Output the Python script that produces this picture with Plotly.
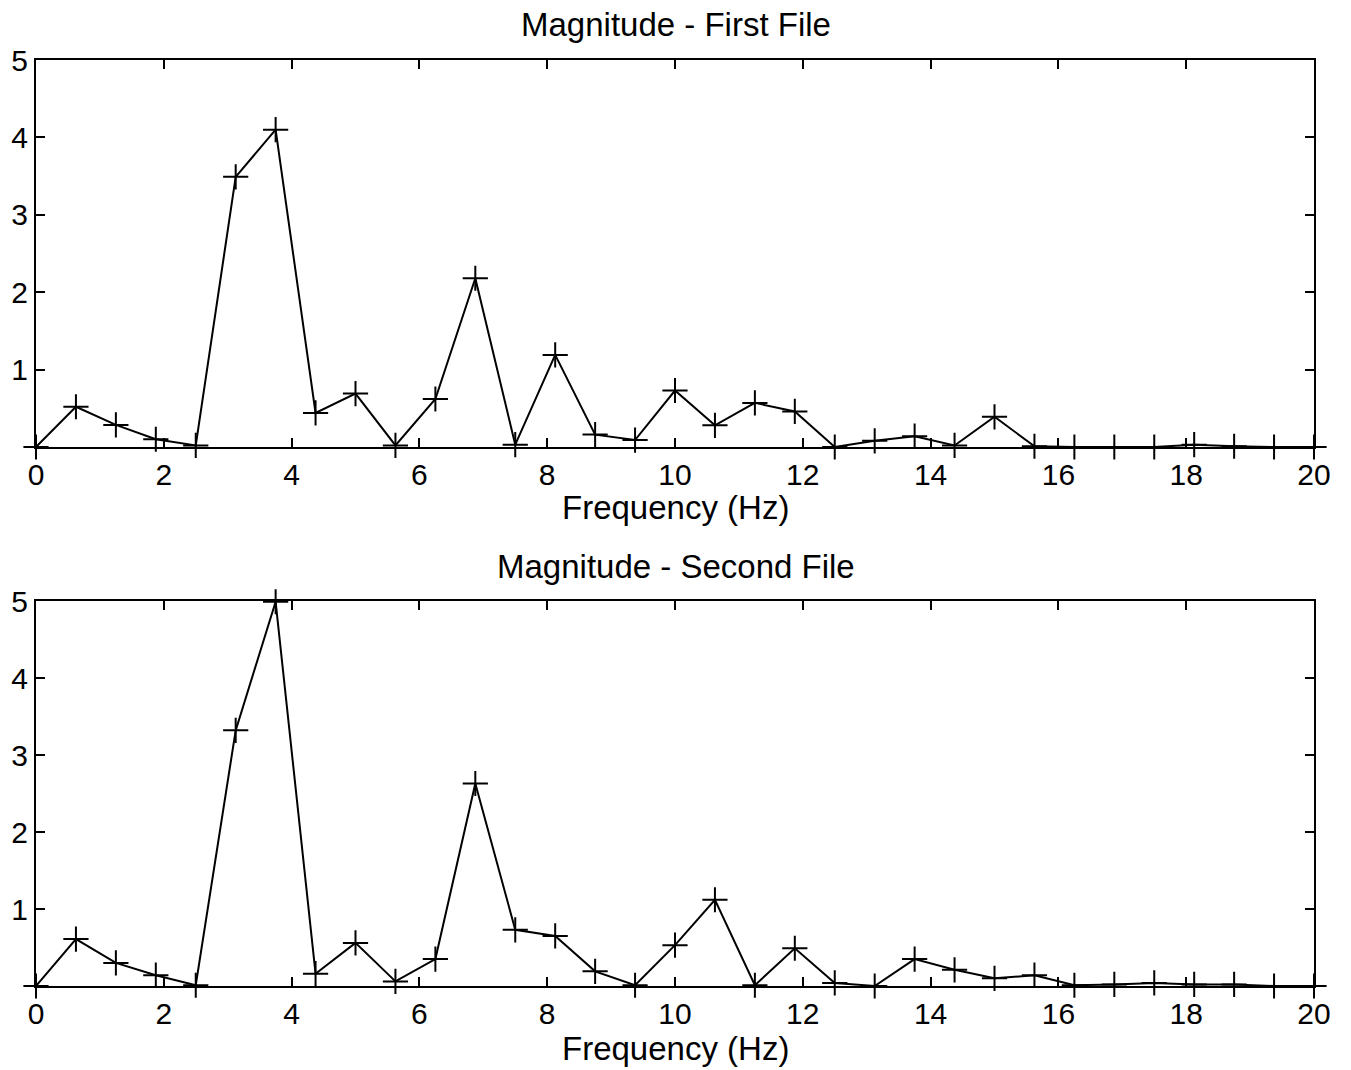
import plotly.graph_objects as go

freq = [0, 0.625, 1.25, 1.875, 2.5, 3.125, 3.75, 4.375, 5, 5.625, 6.25, 6.875, 7.5, 8.125,
        8.75, 9.375, 10, 10.625, 11.25, 11.875, 12.5, 13.125, 13.75, 14.375, 15, 15.625,
        16.25, 16.875, 17.5, 18.125, 18.75, 19.375, 20]

mag_first = [0, 0.52, 0.285, 0.10, 0.02, 3.49, 4.10, 0.44, 0.69, 0.02, 0.62, 2.18, 0.03, 1.19,
             0.16, 0.09, 0.73, 0.28, 0.57, 0.46, 0.0, 0.08, 0.14, 0.02, 0.39, 0.01,
             0.0, 0.0, 0.0, 0.03, 0.01, 0.0, 0.0]

mag_second = [0, 0.61, 0.30, 0.14, 0.01, 3.32, 4.99, 0.16, 0.56, 0.06, 0.35, 2.63, 0.73, 0.65,
              0.19, 0.01, 0.53, 1.12, 0.01, 0.49, 0.04, 0.0, 0.35, 0.21, 0.10, 0.14,
              0.01, 0.02, 0.04, 0.02, 0.02, 0.0, 0.0]

titles = ["Magnitude - First File", "Magnitude - Second File"]
xlabel = "Frequency (Hz)"
xticks = [0, 2, 4, 6, 8, 10, 12, 14, 16, 18, 20]
yticks = [0, 1, 2, 3, 4, 5]
yticktext = ["", "1", "2", "3", "4", "5"]

W, H = 1351, 1070
FONT = "Liberation Sans, Arial, Helvetica, sans-serif"
FS_TICK = 30
FS_TEXT = 33

x0, x1 = 36 / W, 1314 / W
doms = [(1 - 447 / H, 1 - 60 / H), (1 - 986 / H, 1 - 601 / H)]

fig = go.Figure()
for i, ys in enumerate([mag_first, mag_second]):
    xa = "x" if i == 0 else "x2"
    ya = "y" if i == 0 else "y2"
    fig.add_trace(go.Scatter(
        x=freq, y=ys, xaxis=xa, yaxis=ya, mode="lines+markers",
        line=dict(color="black", width=2),
        marker=dict(symbol="cross-thin", size=18, line=dict(color="black", width=2)),
        showlegend=False, cliponaxis=False,
    ))

axis_common = dict(
    showline=True, linecolor="black", linewidth=2, mirror="ticks",
    ticks="inside", ticklen=9, tickwidth=1.5, tickcolor="black",
    showgrid=False, zeroline=False, automargin=False,
    tickfont=dict(family=FONT, size=FS_TICK, color="black"),
)

layout = dict(
    width=W, height=H, margin=dict(l=0, r=0, t=0, b=0, autoexpand=False),
    paper_bgcolor="white", plot_bgcolor="white",
    font=dict(family=FONT, size=FS_TICK, color="black"),
)
for i, (b, t) in enumerate(doms):
    xk = "xaxis" if i == 0 else "xaxis2"
    yk = "yaxis" if i == 0 else "yaxis2"
    layout[xk] = dict(axis_common, domain=[x0, x1], range=[0, 20], tickvals=xticks,
                      anchor="y" if i == 0 else "y2", ticklabelstandoff=0)
    layout[yk] = dict(axis_common, domain=[b, t], range=[0, 5], tickvals=yticks,
                      ticktext=yticktext, anchor="x" if i == 0 else "x2")

fig.update_layout(**layout)

ann_pos = [(24, 508), (566, 1048)]
for i, (ty, ly) in enumerate(ann_pos):
    fig.add_annotation(text=titles[i], x=0.5, y=1 - ty / H, xref="paper", yref="paper",
                       showarrow=False, font=dict(family=FONT, size=FS_TEXT, color="black"),
                       xanchor="center", yanchor="middle")
    fig.add_annotation(text=xlabel, x=0.5, y=1 - ly / H, xref="paper", yref="paper",
                       showarrow=False, font=dict(family=FONT, size=FS_TEXT, color="black"),
                       xanchor="center", yanchor="middle")

fig.write_html("out.html")
